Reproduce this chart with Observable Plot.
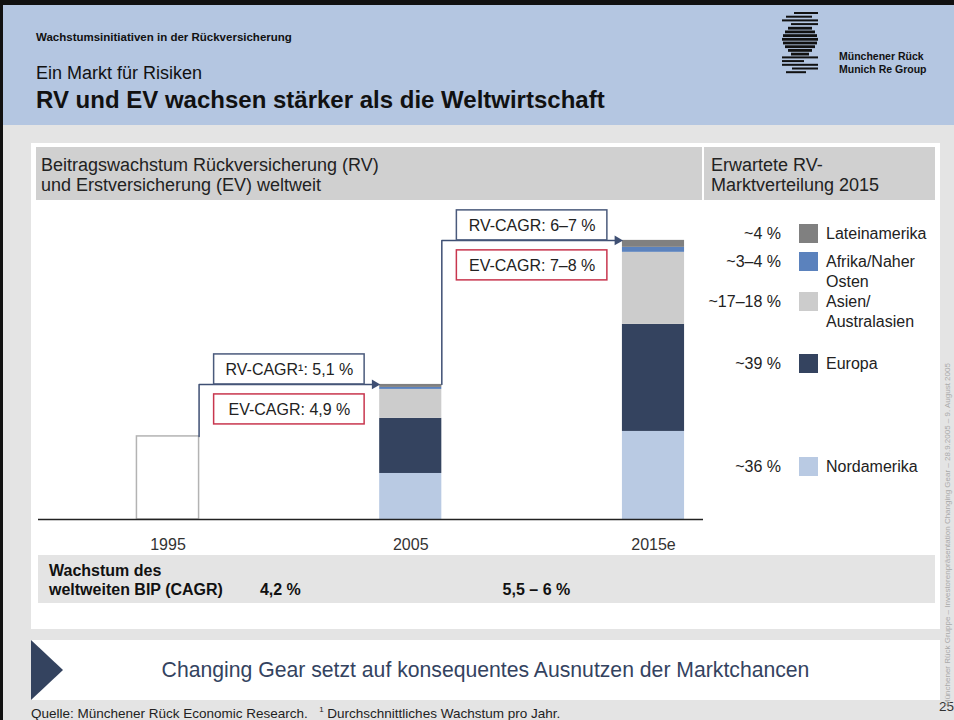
<!DOCTYPE html>
<html><head><meta charset="utf-8">
<script src="https://cdn.jsdelivr.net/npm/d3@7"></script>
<script src="https://cdn.jsdelivr.net/npm/@observablehq/plot@0.6"></script>
<style>
html,body{margin:0;padding:0;}
body{width:954px;height:720px;overflow:hidden;background:#e4e4e4;font-family:"Liberation Sans",Arial,sans-serif;position:relative;color:#222;}
.a{position:absolute;}
#topbar{left:0;top:0;width:954px;height:5px;background:#111;}
#leftbar{left:0;top:0;width:3px;height:720px;background:#111;}
#header{left:3px;top:5px;width:951px;height:120px;background:#b4c6e1;}
#kicker{left:36px;top:31px;font-size:11.5px;font-weight:bold;color:#111;white-space:nowrap;}
#sub{left:36px;top:63px;font-size:18px;color:#111;white-space:nowrap;}
#title{left:36px;top:86px;font-size:24px;font-weight:bold;color:#111;white-space:nowrap;}
#logotext{left:839px;top:50px;font-size:10.5px;font-weight:bold;line-height:13px;color:#111;white-space:nowrap;}
#panel{left:31px;top:143px;width:909px;height:486px;background:#fff;}
#hdrrow{left:36px;top:147px;width:899px;height:53px;background:#d0d0d0;}
#divider{left:702px;top:147px;width:2px;height:53px;background:#fff;}
.hdr{top:155px;font-size:18px;line-height:20px;color:#222;white-space:nowrap;}
#chart{left:38px;top:200px;}
#biprow{left:38px;top:555px;width:897px;height:48px;background:#e4e4e4;}
.bip{font-size:16px;font-weight:bold;line-height:19px;color:#111;white-space:nowrap;}
.pct{left:690px;width:91px;text-align:right;font-size:16px;line-height:20px;color:#222;}
.sw{left:799px;width:19px;height:19px;}
.lab{left:826px;width:108px;font-size:16px;line-height:20px;color:#222;}
#banner{left:31px;top:640px;width:909px;height:60px;background:#fff;}
#bannertext{left:31px;top:640px;width:909px;height:60px;line-height:60px;text-align:center;font-size:21.2px;color:#34435f;}
#foot{left:31px;top:705px;font-size:13.5px;color:#222;white-space:nowrap;}
#page{left:939px;top:699px;font-size:13.5px;color:#333;}
#vert{left:943px;top:706px;transform:rotate(-90deg);transform-origin:left top;font-size:8px;line-height:10px;color:#aaa;white-space:nowrap;}
</style></head>
<body>
<div id="topbar" class="a"></div>
<div id="header" class="a"></div>
<div id="leftbar" class="a"></div>
<div id="kicker" class="a">Wachstumsinitiativen in der Rückversicherung</div>
<div id="sub" class="a">Ein Markt für Risiken</div>
<div id="title" class="a">RV und EV wachsen stärker als die Weltwirtschaft</div>
<svg class="a" style="left:782px;top:11px" width="40" height="64" id="logo"></svg>
<div id="logotext" class="a">Münchener Rück<br>Munich Re Group</div>
<div id="panel" class="a"></div>
<div id="hdrrow" class="a"></div>
<div id="divider" class="a"></div>
<div class="a hdr" style="left:41px">Beitragswachstum Rückversicherung (RV)<br>und Erstversicherung (EV) weltweit</div>
<div class="a hdr" style="left:711px">Erwartete RV-<br>Marktverteilung 2015</div>
<div id="biprow" class="a"></div>
<div class="a bip" style="left:49px;top:561px">Wachstum des<br>weltweiten BIP (CAGR)</div>
<div id="chart" class="a"></div>
<div id="legend"></div>
<div id="banner" class="a"></div>
<svg class="a" style="left:31px;top:640px" width="34" height="60"><polygon points="0,0 32,30 0,60" fill="#34435f"/></svg>
<div id="bannertext" class="a">Changing Gear setzt auf konsequentes Ausnutzen der Marktchancen</div>
<div id="foot" class="a">Quelle: Münchener Rück Economic Research.&nbsp;&nbsp; <sup style="font-size:8px">1</sup> Durchschnittliches Wachstum pro Jahr.</div>
<div id="page" class="a">25</div>
<div id="vert" class="a">Münchener Rück Gruppe – Investorenpräsentation Changing Gear – 28.9.2005 – 9. August 2005</div>
<script>
// ---- data ----
const years = ["1995", "2005", "2015e"];
const regions = ["Nordamerika", "Europa", "Asien/ Australasien", "Afrika/Naher Osten", "Lateinamerika"];
const regionColors = ["#b9cae3", "#34435f", "#cccccc", "#5b82bd", "#808080"];
const shares2015 = ["~36 %", "~39 %", "~17–18 %", "~3–4 %", "~4 %"];
const volume1995 = 100;                                  // index, 1995 = 100
const volume2005 = [55.4, 66.3, 34.9, 2.4, 3.6];         // by region
const volume2015 = [106.0, 128.9, 86.7, 6.0, 8.4];       // by region
const rvCagr = ["RV-CAGR¹: 5,1 %", "RV-CAGR: 6–7 %"];
const evCagr = ["EV-CAGR: 4,9 %", "EV-CAGR: 7–8 %"];
const bipCagr = ["4,2 %", "5,5 – 6 %"];

// ---- derived tables ----
const FONT = "Liberation Sans, Arial, sans-serif";
const NAVY = "#3e4f73";
const HW = 0.128;   // half bar width (x units)
const BW = 0.31;    // half box width (x units)
const segs = [];
[[1, volume2005], [2, volume2015]].forEach(([i, vals]) => {
  let acc = 0;
  vals.forEach((v, k) => { segs.push({i, region: regions[k], y1: acc, y2: acc + v}); acc += v; });
});
const totals = [volume1995, d3.sum(volume2005), d3.sum(volume2015)];
const steps = [0, 1].map(k => ({k, from: totals[k], to: totals[k + 1], rv: rvCagr[k], ev: evCagr[k]}));
const arrowPts = steps.flatMap(s => [
  {k: s.k, x: s.k + HW, y: s.from},
  {k: s.k, x: s.k + HW, y: s.to},
  {k: s.k, x: s.k + 1 - HW - 0.02, y: s.to}
]);

const plot = Plot.plot({
  width: 665, height: 355,
  marginLeft: 0, marginRight: 0, marginTop: 0, marginBottom: 36,
  x: {type: "linear", domain: [-0.5335, 2.206]},
  y: {domain: [0, 384], axis: null},
  color: {domain: regions, range: regionColors},
  style: {fontFamily: FONT, fontSize: "16px", color: "#333", background: "transparent", overflow: "visible"},
  marks: [
    Plot.rect([{i: 0, y1: 0, y2: volume1995}], {x1: d => d.i - HW, x2: d => d.i + HW, y1: "y1", y2: "y2", fill: "white", stroke: "#b3b3b3", strokeWidth: 1.5}),
    Plot.rect(segs, {x1: d => d.i - HW, x2: d => d.i + HW, y1: "y1", y2: "y2", fill: "region"}),
    Plot.ruleY([0], {stroke: "#222", strokeWidth: 1.5}),
    Plot.line(arrowPts, {x: "x", y: "y", z: "k", stroke: NAVY, strokeWidth: 1.5}),
    Plot.dot(steps, {x: d => d.k + 1 - HW, y: "to", symbol: "triangle", r: 3.6, rotate: 90, fill: NAVY, stroke: null, dx: -5}),
    Plot.rect(steps, {x1: d => d.k + 0.5 - BW, x2: d => d.k + 0.5 + BW, y1: "to", y2: "to", insetTop: -30, insetBottom: 0, fill: "white", stroke: "#4a5a7c", strokeWidth: 1.5}),
    Plot.rect(steps, {x1: d => d.k + 0.5 - BW, x2: d => d.k + 0.5 + BW, y1: "to", y2: "to", insetTop: 10, insetBottom: -40, fill: "white", stroke: "#c8364e", strokeWidth: 1.5}),
    Plot.text(steps, {x: d => d.k + 0.5, y: "to", text: "rv", dy: -15, fontSize: 16, fill: "#222"}),
    Plot.text(steps, {x: d => d.k + 0.5, y: "to", text: "ev", dy: 25, fontSize: 16, fill: "#222"}),
    Plot.axisX([0, 1, 2], {tickFormat: i => years[i], tickSize: 0, tickPadding: 19, fontSize: 16, label: null})
  ]
});
document.getElementById("chart").appendChild(plot);

// GDP growth values, positioned with the plot's x scale
const xs = plot.scale("x");
bipCagr.forEach((t, k) => {
  const d = document.createElement("div");
  d.className = "a bip";
  d.style.left = (38 + xs.apply(k + 0.5) - 29) + "px";
  d.style.top = "580px";
  d.textContent = t;
  document.body.appendChild(d);
});

// legend (2015 distribution)
const legendTops = [457, 354, 292, 252, 224];
const lg = document.getElementById("legend");
regions.forEach((r, k) => {
  const top = legendTops[k];
  lg.insertAdjacentHTML("beforeend",
    `<div class="a pct" style="top:${top}px">${shares2015[k]}</div>` +
    `<div class="a sw" style="top:${top}px;background:${regionColors[k]}"></div>` +
    `<div class="a lab" style="top:${top}px">${r}</div>`);
});

// logo stripes
const logo = d3.select("#logo");
const stripes = [
  [12, 36], [4, 30], [0, 36], [9, 36], [6, 30], [3, 33], [1, 35], [0, 36], [1, 35],
  [3, 33], [6, 30], [9, 27], [0, 36], [0, 22], [0, 36], [10, 36], [4, 24]
];
stripes.forEach(([a, b], k) => {
  logo.append("rect").attr("x", a).attr("y", 1 + k * 3.7).attr("width", b - a)
    .attr("height", k >= 4 && k <= 11 ? 2.8 : 2).attr("fill", "#111");
});
</script>
</body></html>
